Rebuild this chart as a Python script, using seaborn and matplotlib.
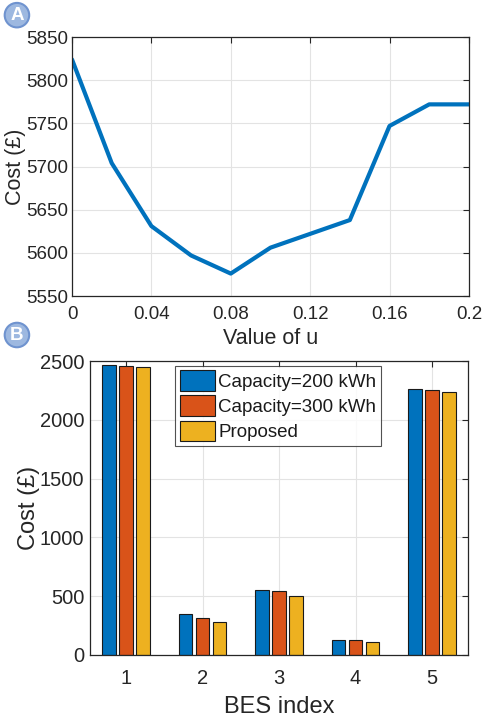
import numpy as np
import pandas as pd
import matplotlib
matplotlib.use("Agg")
import matplotlib.pyplot as plt
import seaborn as sns

# Panel A data
u_values = [0.0, 0.02, 0.04, 0.06, 0.08, 0.10, 0.12, 0.14, 0.16, 0.18, 0.20]
cost_u = [5824, 5704, 5631, 5597, 5576, 5606, 5622, 5638, 5747, 5772, 5772]

# Panel B data
bes_index = ["1", "2", "3", "4", "5"]
cap200 = [2465, 349, 551, 128, 2261]
cap300 = [2460, 318, 545, 125, 2252]
proposed = [2452, 281, 500, 108, 2241]
series_names = ["Capacity=200 kWh", "Capacity=300 kWh", "Proposed"]
colors = ["#0072BD", "#D95319", "#EDB120"]

sns.set_theme(style="white")
plt.rcParams['font.family'] = ['Liberation Sans', 'DejaVu Sans']

fig = plt.figure(figsize=(4.84, 7.22), dpi=100)

grid_kw = dict(color="#e3e3e3", linewidth=0.8)

# ---- Panel A
axA = fig.add_axes([0.1488, 0.590, 0.820, 0.3587])
dfA = pd.DataFrame({"u": u_values, "cost": cost_u})
sns.lineplot(data=dfA, x="u", y="cost", ax=axA, color="#0072BD", linewidth=3)
axA.set_xlim(0, 0.2)
axA.set_ylim(5550, 5850)
axA.set_xticks([0, 0.04, 0.08, 0.12, 0.16, 0.2])
axA.set_xticklabels(["0", "0.04", "0.08", "0.12", "0.16", "0.2"])
axA.set_yticks([5550, 5600, 5650, 5700, 5750, 5800, 5850])
axA.grid(True, **grid_kw)
axA.set_axisbelow(True)
axA.tick_params(axis="both", direction="in", length=4, width=0.8, color="#262626",
                top=True, right=True, labelsize=13.5, labelcolor="#262626")
axA.tick_params(axis="x", pad=7)
axA.tick_params(axis="y", pad=3)
axA.set_xlabel("Value of u", fontsize=15.5, color="#262626", labelpad=4)
axA.set_ylabel("Cost (£)", fontsize=15.5, color="#262626", labelpad=0)
for s in axA.spines.values():
    s.set_color("#262626"); s.set_linewidth(0.9); s.set_visible(True)

# ---- Panel B
axB = fig.add_axes([0.186, 0.0928, 0.781, 0.407])
dfB = pd.DataFrame({
    "BES": bes_index * 3,
    "cost": cap200 + cap300 + proposed,
    "series": [series_names[0]] * 5 + [series_names[1]] * 5 + [series_names[2]] * 5,
})
sns.barplot(data=dfB, x="BES", y="cost", hue="series", palette=colors, ax=axB,
            width=0.667, gap=0.19, edgecolor="#1a1a1a", linewidth=0.8, saturation=1)
axB.set_xlim(-0.47, 4.47)
axB.set_ylim(0, 2500)
axB.set_yticks([0, 500, 1000, 1500, 2000, 2500])
axB.grid(True, **grid_kw)
axB.set_axisbelow(True)
axB.tick_params(axis="both", direction="in", length=4, width=0.8, color="#262626",
                top=True, right=True, labelsize=14.5, labelcolor="#262626")
axB.tick_params(axis="x", pad=10)
axB.tick_params(axis="y", pad=4)
axB.set_xlabel("BES index", fontsize=17, color="#262626", labelpad=6)
axB.set_ylabel("Cost (£)", fontsize=17, color="#262626", labelpad=0)
for s in axB.spines.values():
    s.set_color("#262626"); s.set_linewidth(0.9); s.set_visible(True)
leg = axB.legend(loc="upper left", bbox_to_anchor=(0.225, 0.985), fontsize=13.5,
                 frameon=True, fancybox=False, edgecolor="#262626", handlelength=1.9,
                 handleheight=1.3, handletextpad=0.15, borderpad=0.25, labelspacing=0.25,
                 borderaxespad=0)
leg.get_frame().set_linewidth(0.8)
for t in leg.get_texts():
    t.set_color("#1a1a1a")

# Panel letters
for letter, y in [("A", 0.979), ("B", 0.536)]:
    fig.text(0.035, y, letter, ha="center", va="center", fontsize=13.5, fontweight="bold",
             color="white",
             bbox=dict(boxstyle="circle,pad=0.2", facecolor="#9db8e0", edgecolor="#6f93cf",
                       linewidth=1.5))

fig.savefig("out.png", dpi=100)
